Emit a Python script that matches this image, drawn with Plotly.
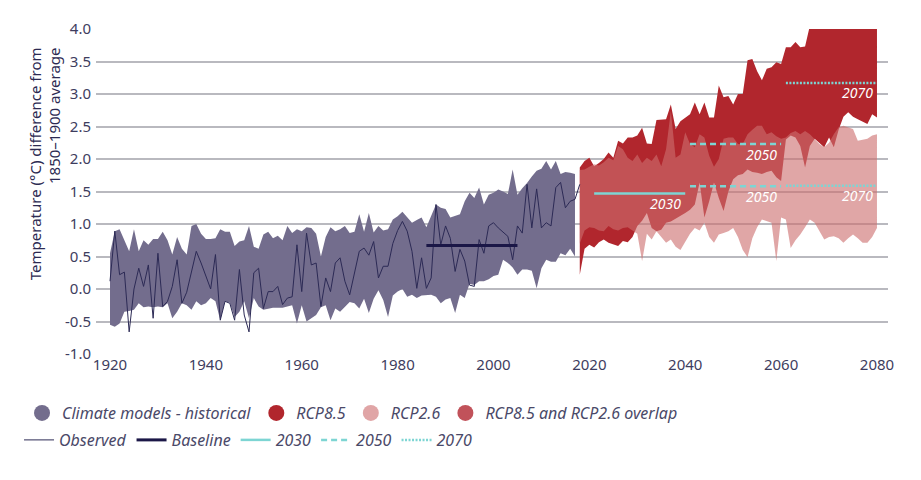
import plotly.graph_objects as go

# ---------------- data ----------------
hist_years = list(range(1920, 2018))
hist_upper = [0.55, 0.89, 0.92, 0.75, 0.58, 0.92, 0.58, 0.75, 0.68, 0.77,
              0.77, 0.88, 0.75, 0.53, 0.80, 0.62, 0.53, 0.97, 1.00, 0.85,
              0.77, 0.77, 0.78, 0.92, 0.88, 0.88, 0.66, 0.73, 0.75, 0.97,
              0.65, 0.62, 0.84, 0.88, 0.78, 0.82, 0.75, 0.97, 0.86, 0.92,
              0.89, 0.95, 0.94, 0.85, 0.50, 0.80, 0.95, 0.89, 0.92, 0.97,
              0.86, 0.88, 1.15, 0.88, 1.17, 0.87, 0.97, 0.90, 0.92, 1.07,
              1.12, 1.19, 1.10, 1.02, 1.06, 1.10, 0.95, 1.12, 1.30, 1.25,
              1.23, 1.10, 1.12, 1.15, 1.35, 1.48, 1.40, 1.56, 1.30, 1.45,
              1.48, 1.53, 1.50, 1.46, 1.84, 1.45, 1.55, 1.63, 1.73, 1.82,
              1.85, 1.97, 1.84, 1.97, 1.77, 1.80, 1.79, 1.77]
hist_lower = [-0.55, -0.58, -0.53, -0.35, -0.34, -0.32, -0.22, -0.28, -0.27, -0.28,
              -0.27, -0.28, -0.22, -0.45, -0.35, -0.22, -0.25, -0.32, -0.19, -0.25,
              -0.22, -0.14, -0.19, -0.48, -0.19, -0.21, -0.43, -0.35, -0.19, -0.45,
              -0.14, -0.27, -0.32, -0.30, -0.29, -0.29, -0.29, -0.27, -0.25, -0.53,
              -0.25, -0.50, -0.45, -0.40, -0.28, -0.25, -0.48, -0.30, -0.35, -0.28,
              -0.20, -0.22, -0.30, -0.15, -0.37, -0.15, -0.02, -0.17, -0.43, -0.10,
              -0.04, 0.00, -0.12, -0.09, -0.14, -0.10, -0.09, -0.09, -0.12, -0.22,
              -0.16, -0.14, -0.37, -0.09, -0.14, 0.08, 0.06, 0.12, 0.12, 0.15,
              0.20, 0.22, 0.45, 0.40, 0.33, 0.22, 0.30, 0.30, 0.28, 0.01,
              0.32, 0.45, 0.42, 0.42, 0.55, 0.52, 0.62, 0.50]

obs_years = list(range(1920, 2019))
observed = [0.12, 0.89, 0.22, 0.26, -0.66, 0.00, 0.32, 0.04, 0.37, -0.45,
            0.55, -0.27, -0.19, 0.04, 0.45, -0.22, -0.05, 0.25, 0.58, 0.40,
            0.20, 0.00, 0.53, -0.48, -0.19, -0.22, -0.48, 0.30, -0.40, -0.66,
            0.25, 0.32, -0.30, -0.04, -0.04, 0.04, -0.24, -0.14, -0.12, 0.68,
            -0.04, 0.86, 0.37, 0.40, -0.27, 0.17, -0.04, 0.40, 0.48, 0.12,
            -0.09, 0.25, 0.58, 0.63, 0.52, 0.73, 0.17, 0.35, 0.35, 0.70,
            0.90, 1.04, 0.89, 0.58, 0.01, 0.48, 0.01, 0.17, 1.30, 0.68,
            0.97, 0.78, 0.27, 0.61, 0.43, 0.06, 0.04, 0.76, 0.55, 0.97,
            1.02, 0.94, 0.88, 0.81, 0.45, 0.97, 0.86, 1.61, 0.94, 1.54,
            0.94, 1.02, 0.97, 1.56, 1.64, 1.25, 1.35, 1.38, 1.61]

proj_years = list(range(2018, 2081))
rcp85_upper = [1.87, 1.97, 2.02, 1.89, 1.94, 2.00, 2.10, 2.02, 2.28, 2.24,
               2.33, 2.33, 2.36, 2.48, 2.24, 2.23, 2.60, 2.60, 2.61, 2.84,
               2.46, 2.58, 2.64, 2.69, 2.87, 2.69, 2.87, 2.64, 2.64, 3.13,
               2.95, 2.97, 2.84, 3.00, 3.00, 3.52, 3.54, 3.35, 3.21, 3.39,
               3.41, 3.49, 3.46, 3.72, 3.72, 3.80, 3.72, 3.73, 4.05, 4.15,
               4.20, 4.25, 4.30, 4.30, 4.35, 4.40, 4.40, 4.45, 4.50, 4.50,
               4.55, 4.60, 4.60]
rcp85_lower = [0.22, 0.62, 0.68, 0.64, 0.72, 0.76, 0.71, 0.68, 0.66, 0.74,
               0.72, 0.80, 0.97, 1.05, 1.17, 0.94, 0.89, 0.91, 1.02, 1.04,
               1.08, 1.12, 1.17, 1.22, 1.30, 1.64, 1.10, 1.35, 1.64, 1.40,
               1.20, 1.50, 1.69, 1.75, 1.77, 1.84, 1.80, 1.79, 1.77, 1.80,
               1.82, 1.72, 1.66, 2.30, 2.36, 2.33, 2.20, 1.87, 2.20, 2.31,
               2.25, 2.18, 2.33, 2.18, 2.45, 2.65, 2.72, 2.65, 2.61, 2.58,
               2.54, 2.69, 2.64]
rcp26_upper = [1.83, 1.84, 1.88, 1.92, 1.90, 1.95, 2.02, 1.98, 2.20, 2.15,
               2.02, 1.97, 2.07, 1.94, 2.02, 1.97, 2.07, 1.89, 2.15, 2.74,
               2.02, 2.07, 2.41, 2.23, 2.18, 2.38, 2.33, 2.05, 1.88, 2.00,
               2.31, 2.33, 2.33, 2.23, 2.23, 2.38, 2.45, 2.51, 2.51, 2.38,
               2.41, 2.35, 2.31, 2.33, 2.40, 2.43, 2.38, 2.43, 2.38, 2.31,
               2.23, 2.18, 2.25, 2.38, 2.49, 2.51, 2.48, 2.46, 2.28, 2.30,
               2.31, 2.36, 2.38]
rcp26_lower = [0.70, 0.90, 0.95, 0.94, 0.90, 0.89, 0.97, 0.92, 0.90, 0.94,
               0.95, 0.90, 0.85, 0.43, 0.85, 0.76, 0.89, 0.80, 0.71, 0.76,
               0.65, 0.60, 0.73, 0.85, 0.94, 0.90, 1.02, 0.80, 0.71, 0.84,
               0.86, 0.89, 0.94, 0.80, 0.60, 0.49, 0.78, 0.95, 1.07, 1.04,
               1.02, 0.43, 1.10, 1.07, 0.63, 0.75, 0.84, 0.95, 1.07, 1.02,
               0.90, 0.76, 0.80, 0.81, 0.78, 0.71, 0.78, 0.84, 0.78, 0.71,
               0.71, 0.80, 0.94]

baseline_years = [1986, 2005]
baseline_value = 0.67

# 20-year horizon averages
h2030_years = [2021, 2040]
h2030_value = 1.47
h2050_years = [2041, 2060]
h2050_rcp26 = 1.58
h2050_rcp85 = 2.23
h2070_years = [2061, 2080]
h2070_rcp26 = 1.59
h2070_rcp85 = 3.17

y_tick_vals = [-1.0, -0.5, 0.0, 0.5, 1.0, 1.5, 2.0, 2.5, 3.0, 3.5, 4.0]
y_tick_text = ["-1.0", "-0.5", "0.0", "0.5", "1.0", "1.5", "2.0", "2.5", "3.0", "3.5", "4.0"]
x_tick_vals = [1920, 1940, 1960, 1980, 2000, 2020, 2040, 2060, 2080]

# ---------------- styles ----------------
FONT = "Noto Sans"
C_HIST = "#736D8D"
C_R85 = "#B1262D"
C_R26_LEG = "#E0A5A6"
C_R26 = "rgba(205,110,110,0.615)"
C_OVER = "#C1525A"
C_OBS = "#2C2A55"
C_BASE = "#1B1747"
C_CYAN = "#7DD5D3"
TXT = "#3E3D5E"

fig = go.Figure()

def band(xs, lo, hi, color, name):
    fig.add_trace(go.Scatter(x=xs, y=lo, mode="lines", line=dict(width=0),
                             showlegend=False, hoverinfo="skip"))
    fig.add_trace(go.Scatter(x=xs, y=hi, mode="lines", line=dict(width=0),
                             fill="tonexty", fillcolor=color, name=name,
                             showlegend=False, hoverinfo="skip"))

band(hist_years, hist_lower, hist_upper, C_HIST, "hist")
band(proj_years, rcp85_lower, rcp85_upper, C_R85, "rcp85")
band(proj_years, rcp26_lower, rcp26_upper, C_R26, "rcp26")

# legend swatches (row 1)
for nm, col in [("Climate models - historical", C_HIST), ("RCP8.5", C_R85),
                ("RCP2.6", C_R26_LEG), ("RCP8.5 and RCP2.6 overlap", C_OVER)]:
    fig.add_trace(go.Scatter(x=[None], y=[None], mode="markers", name=nm,
                             marker=dict(size=16, color=col, symbol="circle"),
                             legend="legend"))

# lines (row 2)
fig.add_trace(go.Scatter(x=obs_years, y=observed, mode="lines", name="Observed",
                         line=dict(color=C_OBS, width=1), legend="legend2"))
fig.add_trace(go.Scatter(x=baseline_years, y=[baseline_value] * 2, mode="lines",
                         name="Baseline", line=dict(color=C_BASE, width=3),
                         legend="legend2"))
fig.add_trace(go.Scatter(x=h2030_years, y=[h2030_value] * 2, mode="lines",
                         name="2030", line=dict(color=C_CYAN, width=2.5),
                         legend="legend2"))
fig.add_trace(go.Scatter(x=h2050_years + [None] + h2050_years,
                         y=[h2050_rcp26] * 2 + [None] + [h2050_rcp85] * 2,
                         mode="lines", name="2050", connectgaps=False,
                         line=dict(color=C_CYAN, width=2.5, dash="6px,4px"),
                         legend="legend2"))
fig.add_trace(go.Scatter(x=h2070_years + [None] + h2070_years,
                         y=[h2070_rcp26] * 2 + [None] + [h2070_rcp85] * 2,
                         mode="lines", name="2070", connectgaps=False,
                         line=dict(color=C_CYAN, width=2.5, dash="2px,1.5px"),
                         legend="legend2"))

# horizon labels
labels = [(h2030_years[1], h2030_value, "2030"),
          (h2050_years[1], h2050_rcp26, "2050"),
          (h2050_years[1], h2050_rcp85, "2050"),
          (h2070_years[1], h2070_rcp26, "2070"),
          (h2070_years[1], h2070_rcp85, "2070")]
for xe, yv, t in labels:
    fig.add_annotation(x=xe - 0.5, y=yv, text=t, showarrow=False,
                       xanchor="right", yanchor="middle", yshift=-10,
                       font=dict(family=FONT, size=14, color="white", style="italic"))

# y-axis title
fig.add_annotation(xref="paper", yref="paper", x=-0.0644, y=0.587,
                   text="Temperature (°C) difference from<br>1850–1900 average",
                   textangle=-90, showarrow=False, align="right",
                   xanchor="center", yanchor="middle",
                   font=dict(family=FONT, size=15, color="#2C2A52"))

leg_font = dict(family=FONT, size=16, color="#4A4968", style="italic")
fig.update_layout(
    width=921, height=480,
    margin=dict(l=88, r=41, t=21, b=134, autoexpand=False),
    plot_bgcolor="white", paper_bgcolor="white",
    font=dict(family=FONT, size=14, color=TXT),
    xaxis=dict(range=[1917.08, 2082.3], showgrid=False, zeroline=False,
               tickvals=x_tick_vals, ticks="", showline=False,
               tickfont=dict(size=15, color=TXT)),
    yaxis=dict(range=[-1.0, 4.0], tickvals=y_tick_vals, ticktext=y_tick_text,
               showgrid=True, gridcolor="#B9B9BF", gridwidth=1.5,
               zeroline=False, ticks="", showline=False, ticklabelstandoff=4,
               tickfont=dict(size=15, color=TXT)),
    legend=dict(orientation="h", x=-0.0934, xanchor="left", y=-0.1815, yanchor="middle",
                traceorder="normal", font=leg_font, bgcolor="rgba(0,0,0,0)",
                itemclick=False),
    legend2=dict(orientation="h", x=-0.0972, xanchor="left", y=-0.2646, yanchor="middle",
                 traceorder="normal", font=leg_font, bgcolor="rgba(0,0,0,0)",
                 itemclick=False),
    showlegend=True,
)

fig.write_html("out.html")
